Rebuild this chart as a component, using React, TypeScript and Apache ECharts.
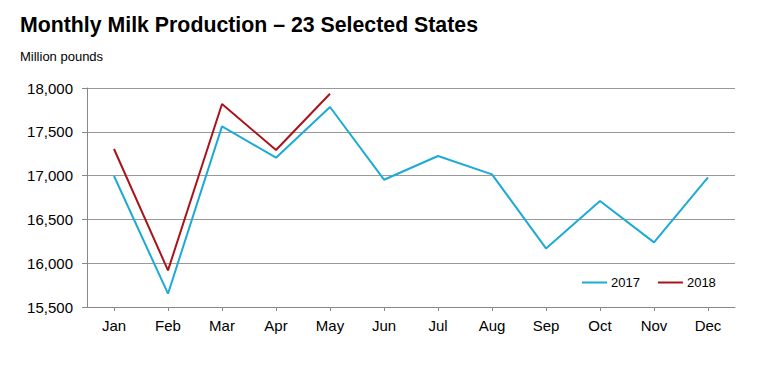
import React, { useEffect, useRef } from "react";
import * as echarts from "echarts";

const months = ["Jan", "Feb", "Mar", "Apr", "May", "Jun", "Jul", "Aug", "Sep", "Oct", "Nov", "Dec"];
const values2017 = [16995, 15652, 17562, 17204, 17783, 16953, 17224, 17014, 16169, 16710, 16238, 16980];
const values2018 = [17304, 15918, 17817, 17292, 17935];
const yTicks = { min: 15500, max: 18000, interval: 500 };

const FONT = "'Liberation Sans', Arial, sans-serif";

export default function App() {
  const ref = useRef<HTMLDivElement>(null);
  useEffect(() => {
    if (!ref.current) return;
    const chart = echarts.init(ref.current, null, { renderer: "svg" });
    chart.setOption({
      animation: false,
      backgroundColor: "#ffffff",
      textStyle: { fontFamily: FONT },
      title: [
        {
          text: "Monthly Milk Production – 23 Selected States",
          left: 7,
          top: 1,
          textStyle: { fontSize: 21.3, fontWeight: "bold", color: "#000", fontFamily: FONT },
        },
        {
          text: "Million pounds",
          left: 7,
          top: 37,
          textStyle: { fontSize: 13, fontWeight: "normal", color: "#000", fontFamily: FONT },
        },
      ],
      legend: {
        left: 569,
        top: 263,
        icon: "rect",
        itemWidth: 25,
        itemHeight: 2,
        itemGap: 18,
        textStyle: { fontSize: 13, color: "#000", fontFamily: FONT, padding: [0, 0, 0, -1] },
        data: ["2017", "2018"],
      },
      grid: { left: 79, right: 34, top: 80, bottom: 65, containLabel: false },
      xAxis: {
        type: "category",
        data: months,
        boundaryGap: true,
        axisLine: { show: true, lineStyle: { color: "#888", width: 1 } },
        axisTick: { show: true, alignWithLabel: true, length: 4, lineStyle: { color: "#888" } },
        axisLabel: { color: "#000", fontSize: 15, margin: 11, fontFamily: FONT },
        splitLine: { show: false },
      },
      yAxis: {
        type: "value",
        min: yTicks.min,
        max: yTicks.max,
        interval: yTicks.interval,
        axisLine: { show: true, lineStyle: { color: "#888", width: 1 } },
        axisTick: { show: true, length: 5, lineStyle: { color: "#888" } },
        axisLabel: {
          color: "#000",
          fontSize: 15,
          margin: 14,
          fontFamily: FONT,
          formatter: (v: number) => v.toLocaleString("en-US"),
        },
        splitLine: { show: true, lineStyle: { color: "#999", width: 1 } },
      },
      series: [
        {
          name: "2017",
          type: "line",
          data: values2017,
          symbol: "none",
          lineStyle: { color: "#1DAAD4", width: 2 },
          itemStyle: { color: "#1DAAD4" },
        },
        {
          name: "2018",
          type: "line",
          data: values2018,
          symbol: "none",
          lineStyle: { color: "#A8141A", width: 2 },
          itemStyle: { color: "#A8141A" },
        },
      ],
    });
    return () => chart.dispose();
  }, []);
  return <div ref={ref} style={{ width: 761, height: 364 }} />;
}
